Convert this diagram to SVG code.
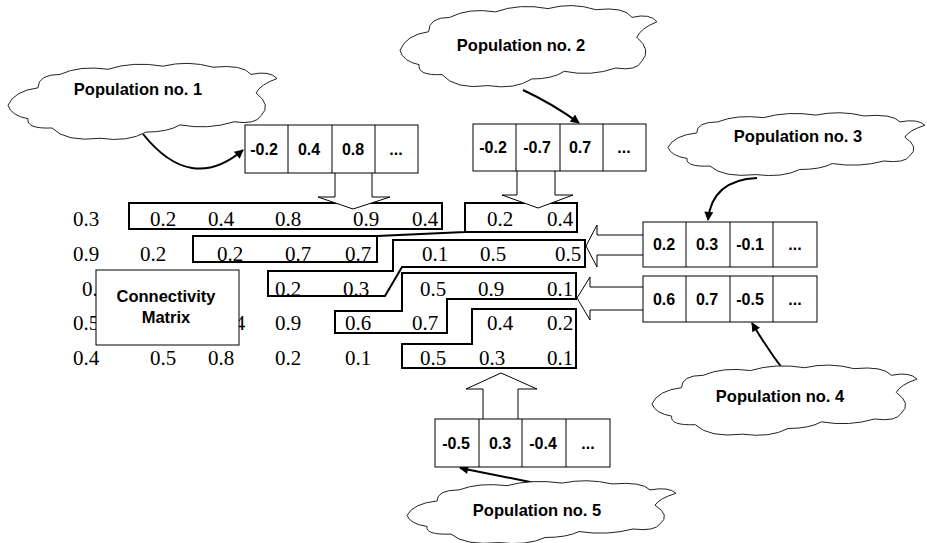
<svg xmlns="http://www.w3.org/2000/svg" xmlns:xlink="http://www.w3.org/1999/xlink" width="927" height="543" viewBox="0 0 927 543">
<style>
.m{font-family:"Liberation Serif","Times New Roman",serif;font-size:21px;fill:#000}
.lbl{font-family:"Liberation Sans",Arial,sans-serif;font-weight:bold;font-size:16.5px;fill:#000;text-anchor:middle}
.cell{font-family:"Liberation Sans",Arial,sans-serif;font-weight:bold;font-size:16px;fill:#000;text-anchor:middle}
.box{fill:#fff;stroke:#000;stroke-width:1}
.grp{fill:none;stroke:#000;stroke-width:2}
.blk{fill:#fff;stroke:#000;stroke-width:1}
.cloud{fill:#fff;stroke:#222;stroke-width:1}
.con{fill:none;stroke:#000;stroke-width:2}
</style>
<defs>
<path id="cloudshape" vector-effect="non-scaling-stroke" d="M0,44 Q6,30 30,27 Q30,14 52,14 Q72,5 100,9 Q125,1 155,6 Q180,0 205,7 Q235,4 243,14 Q262,10 269,18 Q252,24 248,32 Q264,44 253,54 Q248,63 226,60 Q200,68 172,63 Q160,70 138,70 Q120,80 92,76 Q58,80 44,66 Q18,67 20,57 Q3,54 0,44 Z"/>
<marker id="ah" viewBox="0 0 10 10" refX="9" refY="5" markerWidth="11" markerHeight="9" markerUnits="userSpaceOnUse" orient="auto">
<path d="M0,0 L10,5 L0,10 Z" fill="#000"/>
</marker>
</defs>
<rect width="927" height="543" fill="#fff"/>

<g id="matrix">
<text class="m" x="73" y="226">0.3</text><text class="m" x="150" y="226">0.2</text><text class="m" x="208" y="226">0.4</text><text class="m" x="275" y="226">0.8</text><text class="m" x="353" y="226">0.9</text><text class="m" x="412" y="226">0.4</text><text class="m" x="487" y="226">0.2</text><text class="m" x="547" y="226">0.4</text>
<text class="m" x="73" y="261">0.9</text><text class="m" x="140" y="261">0.2</text><text class="m" x="217" y="261">0.2</text><text class="m" x="285" y="261">0.7</text><text class="m" x="345" y="261">0.7</text><text class="m" x="422" y="261">0.1</text><text class="m" x="480" y="261">0.5</text><text class="m" x="555" y="261">0.5</text>
<text class="m" x="82" y="296">0.</text><text class="m" x="275" y="296">0.2</text><text class="m" x="343" y="296">0.3</text><text class="m" x="420" y="296">0.5</text><text class="m" x="478" y="296">0.9</text><text class="m" x="547" y="296">0.1</text>
<text class="m" x="73" y="330">0.5</text><text class="m" x="219" y="330">0.4</text><text class="m" x="275" y="330">0.9</text><text class="m" x="345" y="330">0.6</text><text class="m" x="412" y="330">0.7</text><text class="m" x="487" y="330">0.4</text><text class="m" x="547" y="330">0.2</text>
<text class="m" x="73" y="365">0.4</text><text class="m" x="150" y="365">0.5</text><text class="m" x="208" y="365">0.8</text><text class="m" x="275" y="365">0.2</text><text class="m" x="345" y="365">0.1</text><text class="m" x="420" y="365">0.5</text><text class="m" x="479" y="365">0.3</text><text class="m" x="547" y="365">0.1</text>
</g>

<g id="regions">
<rect class="grp" x="129" y="203" width="313" height="26"/>
<path class="grp" d="M193,236 H377 V262 H193 Z M377,236 L465,232 M465,232 V203 H577 V232 H465 Z"/>
<path class="grp" d="M393,240 H585 V267 H402 L385,296 H268 V271 H393 Z"/>
<path class="grp" d="M402,273 H576 V299 H447 V333 H335 V311 H402 Z"/>
<path class="grp" d="M472,309 H576 V368 H402 V344 H472 Z"/>
</g>

<g id="connectivity-matrix">
<rect class="box" x="96" y="270" width="143" height="75"/>
<text class="lbl" x="166" y="302">Connectivity</text>
<text class="lbl" x="166" y="323">Matrix</text>
</g>

<g id="connectors">
<path class="blk" d="M335,173 V197 H318 L353,209 L390,197 H372 V173"/>
<path class="blk" d="M517,171 V195 H502 L538,208 L573,195 H555 V171"/>
<path class="blk" d="M643,235 H597 V225 L586,246 L597,267 V255 H643"/>
<path class="blk" d="M643,287 H590 V277 L577,298 L590,320 V310 H643"/>
<path class="blk" d="M483,419 V389 H466 L501,373 L537,389 H518 V419"/>
<path class="con" marker-end="url(#ah)" d="M143,134 Q191,194 243,150"/>
<path class="con" marker-end="url(#ah)" d="M523,90 Q553,104 579,123"/>
<path class="con" marker-end="url(#ah)" d="M757,178 Q712,180 708,220"/>
<path class="con" marker-end="url(#ah)" d="M785,372 Q768,350 752,323"/>
<path class="con" marker-end="url(#ah)" d="M545,485 L460,468"/>
</g>

<g id="pop1-chromosome">
<rect class="box" x="245" y="125" width="173" height="48"/>
<line x1="288" y1="125" x2="288" y2="173" stroke="#000"/><line x1="332" y1="125" x2="332" y2="173" stroke="#000"/><line x1="375" y1="125" x2="375" y2="173" stroke="#000"/>
<text class="cell" x="264" y="155">-0.2</text><text class="cell" x="309" y="155">0.4</text><text class="cell" x="353" y="155">0.8</text><text class="cell" x="396" y="155">...</text>
</g>
<g id="pop2-chromosome">
<rect class="box" x="473" y="124" width="173" height="47"/>
<line x1="516" y1="124" x2="516" y2="171" stroke="#000"/><line x1="560" y1="124" x2="560" y2="171" stroke="#000"/><line x1="603" y1="124" x2="603" y2="171" stroke="#000"/>
<text class="cell" x="493" y="153">-0.2</text><text class="cell" x="537" y="153">-0.7</text><text class="cell" x="580" y="153">0.7</text><text class="cell" x="624" y="153">...</text>
</g>
<g id="pop3-chromosome">
<rect class="box" x="643" y="222" width="174" height="45"/>
<line x1="686" y1="222" x2="686" y2="267" stroke="#000"/><line x1="730" y1="222" x2="730" y2="267" stroke="#000"/><line x1="773" y1="222" x2="773" y2="267" stroke="#000"/>
<text class="cell" x="664" y="250">0.2</text><text class="cell" x="707" y="250">0.3</text><text class="cell" x="750" y="250">-0.1</text><text class="cell" x="795" y="250">...</text>
</g>
<g id="pop4-chromosome">
<rect class="box" x="643" y="276" width="174" height="46"/>
<line x1="686" y1="276" x2="686" y2="322" stroke="#000"/><line x1="730" y1="276" x2="730" y2="322" stroke="#000"/><line x1="773" y1="276" x2="773" y2="322" stroke="#000"/>
<text class="cell" x="664" y="305">0.6</text><text class="cell" x="707" y="305">0.7</text><text class="cell" x="750" y="305">-0.5</text><text class="cell" x="795" y="305">...</text>
</g>
<g id="pop5-chromosome">
<rect class="box" x="435" y="419" width="175" height="48"/>
<line x1="479" y1="419" x2="479" y2="467" stroke="#000"/><line x1="522" y1="419" x2="522" y2="467" stroke="#000"/><line x1="566" y1="419" x2="566" y2="467" stroke="#000"/>
<text class="cell" x="456" y="449">-0.5</text><text class="cell" x="500" y="449">0.3</text><text class="cell" x="543" y="449">-0.4</text><text class="cell" x="588" y="449">...</text>
</g>

<g id="pop1-cloud">
<use xlink:href="#cloudshape" class="cloud" transform="translate(8,60) scale(1,1.03)"/>
<text class="lbl" x="138" y="95">Population no. 1</text>
</g>
<g id="pop2-cloud">
<use xlink:href="#cloudshape" class="cloud" transform="translate(400,2) scale(0.955,1.1)"/>
<text class="lbl" x="521" y="51">Population no. 2</text>
</g>
<g id="pop3-cloud">
<use xlink:href="#cloudshape" class="cloud" transform="translate(668,110) scale(0.955,0.85)"/>
<text class="lbl" x="798" y="142">Population no. 3</text>
</g>
<g id="pop4-cloud">
<use xlink:href="#cloudshape" class="cloud" transform="translate(652,362) scale(0.985,0.95)"/>
<text class="lbl" x="780" y="402">Population no. 4</text>
</g>
<g id="pop5-cloud">
<use xlink:href="#cloudshape" class="cloud" transform="translate(407,478) scale(1,0.85)"/>
<text class="lbl" x="537" y="516">Population no. 5</text>
</g>
</svg>
